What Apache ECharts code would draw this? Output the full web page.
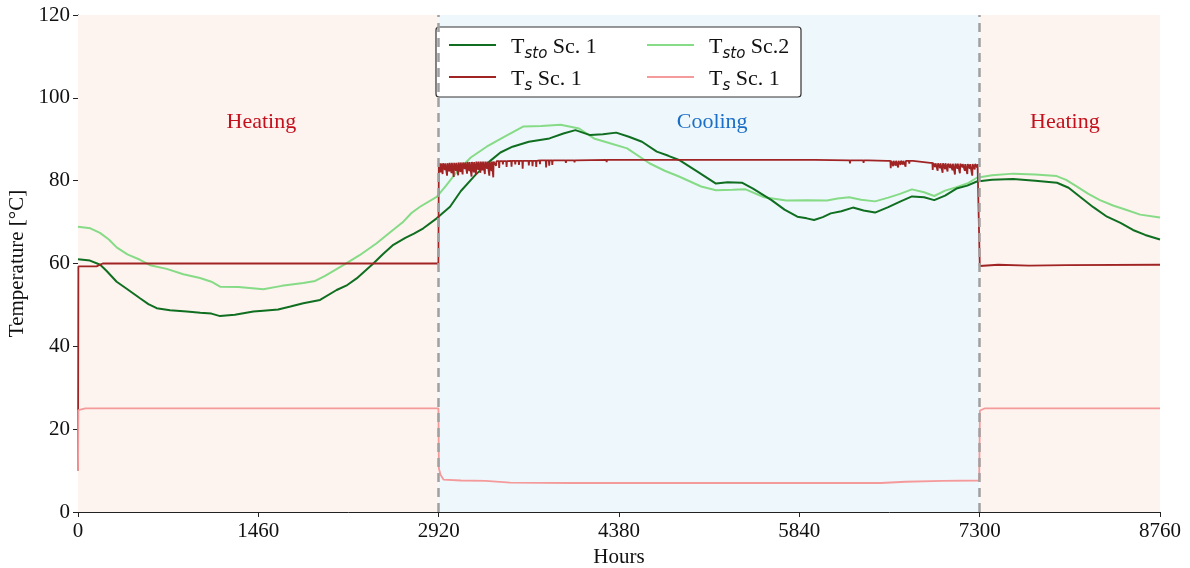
<!DOCTYPE html>
<html>
<head>
<meta charset="utf-8">
<script src="https://cdn.jsdelivr.net/npm/echarts@6/dist/echarts.min.js"></script>
<style>
  html, body { margin: 0; padding: 0; background: #fff; }
  #main { width: 1190px; height: 568px; }
</style>
</head>
<body>
<div id="main"></div>
<script>
// x axis ticks (hours)
var hourTicks = [0, 1460, 2920, 4380, 5840, 7300, 8760];
// season boundaries
var heating1 = [0, 2920];
var cooling = [2920, 7300];
var heating2 = [7300, 8760];

// T_sto Sc. 1  [hour, °C]
var tSto1 = [
    [0, 61], [97, 60.7], [180, 59.7], [232, 58.2], [313, 55.6], [394, 53.9], [502, 51.6],
    [570, 50.2], [637, 49.2], [745, 48.7], [880, 48.4], [990, 48.1], [1080, 47.9], [1150, 47.3],
    [1270, 47.6], [1420, 48.4], [1500, 48.6], [1620, 48.9], [1720, 49.6], [1824, 50.4],
    [1960, 51.2], [2094, 53.6], [2180, 54.8], [2256, 56.4], [2391, 60], [2470, 62.3],
    [2553, 64.5], [2650, 66.2], [2720, 67.2], [2796, 68.5], [2904, 70.9], [3012, 73.7],
    [3100, 77.5], [3218, 81.4], [3330, 84.6], [3420, 86.8], [3518, 88.2], [3650, 89.4],
    [3817, 90.2], [3930, 91.4], [4027, 92.2], [4147, 91], [4250, 91.2], [4357, 91.6],
    [4460, 90.6], [4566, 89.4], [4686, 87], [4780, 86], [4866, 85], [5015, 82.2],
    [5165, 79.3], [5260, 79.6], [5375, 79.5], [5465, 78.1], [5615, 75.3], [5720, 73],
    [5824, 71.3], [5900, 70.9], [5959, 70.5], [6030, 71.2], [6094, 72.1], [6180, 72.6],
    [6274, 73.5], [6360, 72.8], [6453, 72.3], [6560, 73.6], [6660, 75], [6752, 76.2],
    [6850, 76], [6932, 75.3], [7020, 76.4], [7112, 78.1], [7200, 78.8], [7277, 79.8],
    [7400, 80.2], [7570, 80.4], [7750, 80], [7926, 79.5], [8020, 78.3], [8112, 76.1],
    [8220, 73.6], [8331, 71.3], [8440, 69.8], [8541, 68.1], [8640, 66.9], [8760, 65.8]
];

// T_sto Sc.2  [hour, °C]
var tSto2 = [
    [0, 68.9], [100, 68.5], [178, 67.4], [250, 65.8], [313, 63.9], [400, 62.2], [502, 60.9],
    [583, 59.6], [718, 58.7], [853, 57.4], [988, 56.5], [1080, 55.6], [1150, 54.4],
    [1300, 54.3], [1500, 53.8], [1650, 54.6], [1824, 55.3], [1920, 55.8], [2000, 57],
    [2148, 59.6], [2280, 62], [2418, 64.9], [2530, 67.6], [2634, 70.1], [2700, 72.2],
    [2769, 73.7], [2904, 76.1], [2980, 78.8], [3068, 82.2], [3180, 85.6], [3308, 88.2],
    [3450, 90.6], [3607, 93.1], [3750, 93.2], [3907, 93.5], [4057, 92.6], [4177, 90.2],
    [4300, 89.1], [4446, 87.8], [4626, 84.2], [4750, 82.4], [4866, 81], [5045, 78.6],
    [5165, 77.7], [5300, 77.8], [5405, 77.9], [5555, 76], [5734, 75.2], [5900, 75.3],
    [6064, 75.2], [6150, 75.7], [6243, 76], [6340, 75.4], [6453, 75], [6560, 75.9],
    [6655, 76.8], [6752, 77.9], [6850, 77.2], [6932, 76.3], [7020, 77.6], [7112, 78.4],
    [7200, 79.3], [7277, 80.7], [7400, 81.3], [7573, 81.7], [7750, 81.5], [7924, 81.1],
    [8000, 80.2], [8085, 78.6], [8180, 76.8], [8274, 75.3], [8380, 74], [8490, 72.9],
    [8600, 71.8], [8760, 71.1]
];

// T_s Sc. 1 (dark red) base points [hour, °C]
var tS1Base = [
    [0, 10], [3, 59.3], [150, 59.3], [200, 60], [2918, 60], [2921, 84.2],
    [3380, 84.7], [3900, 84.9], [4400, 85], [5900, 85], [6400, 84.9], [6550, 84.8],
    [6760, 84.8], [6900, 84.3], [7297, 84], [7301, 59.4], [7450, 59.7], [7700, 59.5],
    [8000, 59.6], [8760, 59.7]
];
// T_s Sc. 1 dips during cooling [hour, level, dip]
var tS1Dips = [
    [2935, 84.2, 82.0], [2952, 84.2, 81.6], [2970, 84.2, 82.6], [2988, 84.2, 81.2],
    [3006, 84.3, 82.2], [3024, 84.3, 81.8], [3042, 84.3, 80.9], [3060, 84.3, 82.4],
    [3078, 84.4, 81.3], [3096, 84.4, 82.1], [3114, 84.4, 81.5], [3132, 84.4, 82.8],
    [3150, 84.5, 81.7], [3168, 84.5, 82.3], [3186, 84.5, 81.0], [3204, 84.5, 82.0],
    [3222, 84.6, 81.4], [3240, 84.6, 82.6], [3258, 84.6, 81.9], [3276, 84.6, 82.5],
    [3294, 84.6, 81.6], [3312, 84.6, 82.9], [3330, 84.6, 81.2], [3348, 84.6, 82.3],
    [3362, 84.6, 80.8],
    [3385, 84.7, 83.6], [3410, 84.7, 83.1], [3440, 84.7, 83.9], [3470, 84.7, 83.3],
    [3510, 84.8, 83.4], [3540, 84.8, 83.9], [3570, 84.8, 83.8], [3600, 84.8, 82.9],
    [3650, 84.8, 83.7], [3680, 84.8, 83.5], [3710, 84.8, 83.3], [3740, 84.9, 84.0],
    [3790, 84.9, 83.2], [3815, 84.9, 83.6], [3840, 84.9, 83.8],
    [3950, 84.9, 84.3], [4020, 84.9, 84.4], [4280, 85, 84.5],
    [5970, 85, 84.6], [6250, 84.9, 84.2], [6360, 84.9, 84.3],
    [6580, 84.8, 83.0], [6600, 84.8, 83.5], [6620, 84.8, 83.6], [6640, 84.8, 83.2],
    [6660, 84.8, 83.8], [6680, 84.8, 83.9], [6700, 84.8, 83.4], [6730, 84.8, 84.1],
    [6920, 84.3, 82.6], [6940, 84.2, 83.3], [6960, 84.2, 82.4], [6980, 84.2, 83.0],
    [7000, 84.2, 81.9], [7020, 84.2, 82.8], [7040, 84.1, 82.2], [7060, 84.1, 83.1],
    [7080, 84.1, 82.5], [7100, 84.1, 81.5], [7120, 84.1, 82.9], [7140, 84.1, 81.8],
    [7160, 84.0, 83.2], [7180, 84.0, 82.4], [7200, 84.0, 81.6], [7220, 84.0, 82.9],
    [7240, 84.0, 81.2], [7260, 84.0, 82.7], [7280, 84.0, 83.2]
];

// T_s Sc. 1 (pink) [hour, °C]
var tS2 = [
    [0, 10], [3, 24.6], [60, 25], [2918, 25], [2922, 10.5], [2935, 9], [2960, 7.8],
    [3100, 7.6], [3300, 7.5], [3500, 7.1], [4000, 7], [5000, 7], [6000, 7], [6500, 7],
    [6700, 7.3], [7000, 7.5], [7296, 7.6], [7302, 24.5], [7340, 25], [8760, 25]
];

var legendNames = {
    sto1: '{g|}{n|T}{s|sto}{n| Sc. 1}',
    sto2: '{g|}{n|T}{s|sto}{n| Sc.2}',
    s1: '{g|}{n|T}{s|s}{n| Sc. 1}',
    s2: '{g|}{n|T}{s|s}{n| Sc. 1}'
};

function buildDips(base, dips) {
    var pts = base.slice();
    dips.forEach(function (d) {
        pts.push([d[0] - 3, d[1]], [d[0], d[2]], [d[0] + 3, d[1]]);
    });
    pts.sort(function (a, b) { return a[0] - b[0]; });
    return pts;
}

var serif = 'Liberation Serif';
var chart = echarts.init(document.getElementById('main'));

var legendText = {
    fontFamily: serif,
    color: '#111',
    rich: {
        g: { width: 10 },
        n: { fontFamily: serif, fontSize: 22, color: '#111', lineHeight: 26, verticalAlign: 'bottom' },
        s: { fontFamily: 'DejaVu Sans', fontStyle: 'italic', fontSize: 15, color: '#111', lineHeight: 26, verticalAlign: 'bottom', padding: [0, 0, -4, 0] }
    }
};

var option = {
    animation: false,
    backgroundColor: '#fff',
    grid: { left: 78, right: 30, top: 15, bottom: 56, outerBoundsMode: 'none', containLabel: false },
    legend: [
        {
            left: 444, top: 31, orient: 'vertical', itemGap: 6, z: 6,
            icon: 'rect', itemWidth: 47, itemHeight: 2,
            data: ['sto1', 's1'],
            formatter: function (n) { return legendNames[n]; },
            textStyle: legendText
        },
        {
            left: 642, top: 31, orient: 'vertical', itemGap: 6, z: 6,
            icon: 'rect', itemWidth: 47, itemHeight: 2,
            data: ['sto2', 's2'],
            formatter: function (n) { return legendNames[n]; },
            textStyle: legendText
        }
    ],
    graphic: [{
        type: 'rect', z: 5,
        shape: { x: 436, y: 27, width: 365, height: 70, r: 3 },
        style: { fill: '#fff', stroke: '#333', lineWidth: 1.2 }
    }],
    xAxis: {
        type: 'value', min: 0, max: 8760, interval: 1460,
        name: 'Hours', nameLocation: 'middle', nameGap: 29,
        nameTextStyle: { fontFamily: serif, fontSize: 21, color: '#111' },
        axisLine: { lineStyle: { color: '#222', width: 1 } },
        axisTick: { show: true, length: 5, lineStyle: { color: '#222' } },
        axisLabel: { fontFamily: serif, fontSize: 21, color: '#111', margin: 9,
            formatter: function (v) { return hourTicks.indexOf(v) >= 0 ? String(v) : ''; } },
        splitLine: { show: false }
    },
    yAxis: {
        type: 'value', min: 0, max: 120, interval: 20,
        name: 'Temperature [°C]', nameLocation: 'middle', nameGap: 47,
        nameTextStyle: { fontFamily: serif, fontSize: 21, color: '#111' },
        axisLine: { show: true, lineStyle: { color: '#222', width: 1 } },
        axisTick: { show: true, length: 5, lineStyle: { color: '#222' } },
        axisLabel: { fontFamily: serif, fontSize: 21, color: '#111', margin: 8 },
        splitLine: { show: true, lineStyle: { color: '#9a9a9a', type: [2, 2], width: 0.8 } }
    },
    series: [
        {
            name: 'seasons', type: 'line', data: [], silent: true,
            markArea: {
                silent: true,
                data: [
                    [{ xAxis: heating1[0], itemStyle: { color: '#fdf3ef' },
                       label: { show: true, position: 'insideTop', distance: 0, offset: [3, 96], formatter: 'Heating', fontFamily: serif, fontSize: 22, color: '#c4101c' } },
                     { xAxis: heating1[1] }],
                    [{ xAxis: cooling[0], itemStyle: { color: '#eef7fc' },
                       label: { show: true, position: 'insideTop', distance: 0, offset: [3, 96], formatter: 'Cooling', fontFamily: serif, fontSize: 22, color: '#1b6fc6' } },
                     { xAxis: cooling[1] }],
                    [{ xAxis: heating2[0], itemStyle: { color: '#fdf3ef' },
                       label: { show: true, position: 'insideTop', distance: 0, offset: [-5, 96], formatter: 'Heating', fontFamily: serif, fontSize: 22, color: '#c4101c' } },
                     { xAxis: heating2[1] }]
                ]
            },
            markLine: {
                silent: true, symbol: 'none', label: { show: false },
                lineStyle: { color: '#a0a0a0', type: [9, 6], width: 2.5 },
                data: [{ xAxis: cooling[0] }, { xAxis: cooling[1] }]
            }
        },
        { name: 'sto2', type: 'line', data: tSto2, showSymbol: false, color: '#86db86', lineStyle: { width: 2, color: '#86db86' } },
        { name: 'sto1', type: 'line', data: tSto1, showSymbol: false, color: '#0f6e20', lineStyle: { width: 2, color: '#0f6e20' } },
        { name: 's1', type: 'line', data: buildDips(tS1Base, tS1Dips), showSymbol: false, color: '#a12424', lineStyle: { width: 1.8, color: '#a12424' } },
        { name: 's2', type: 'line', data: tS2, showSymbol: false, color: '#f59a9a', lineStyle: { width: 1.8, color: '#f59a9a' } }
    ]
};

chart.setOption(option);
</script>
</body>
</html>
